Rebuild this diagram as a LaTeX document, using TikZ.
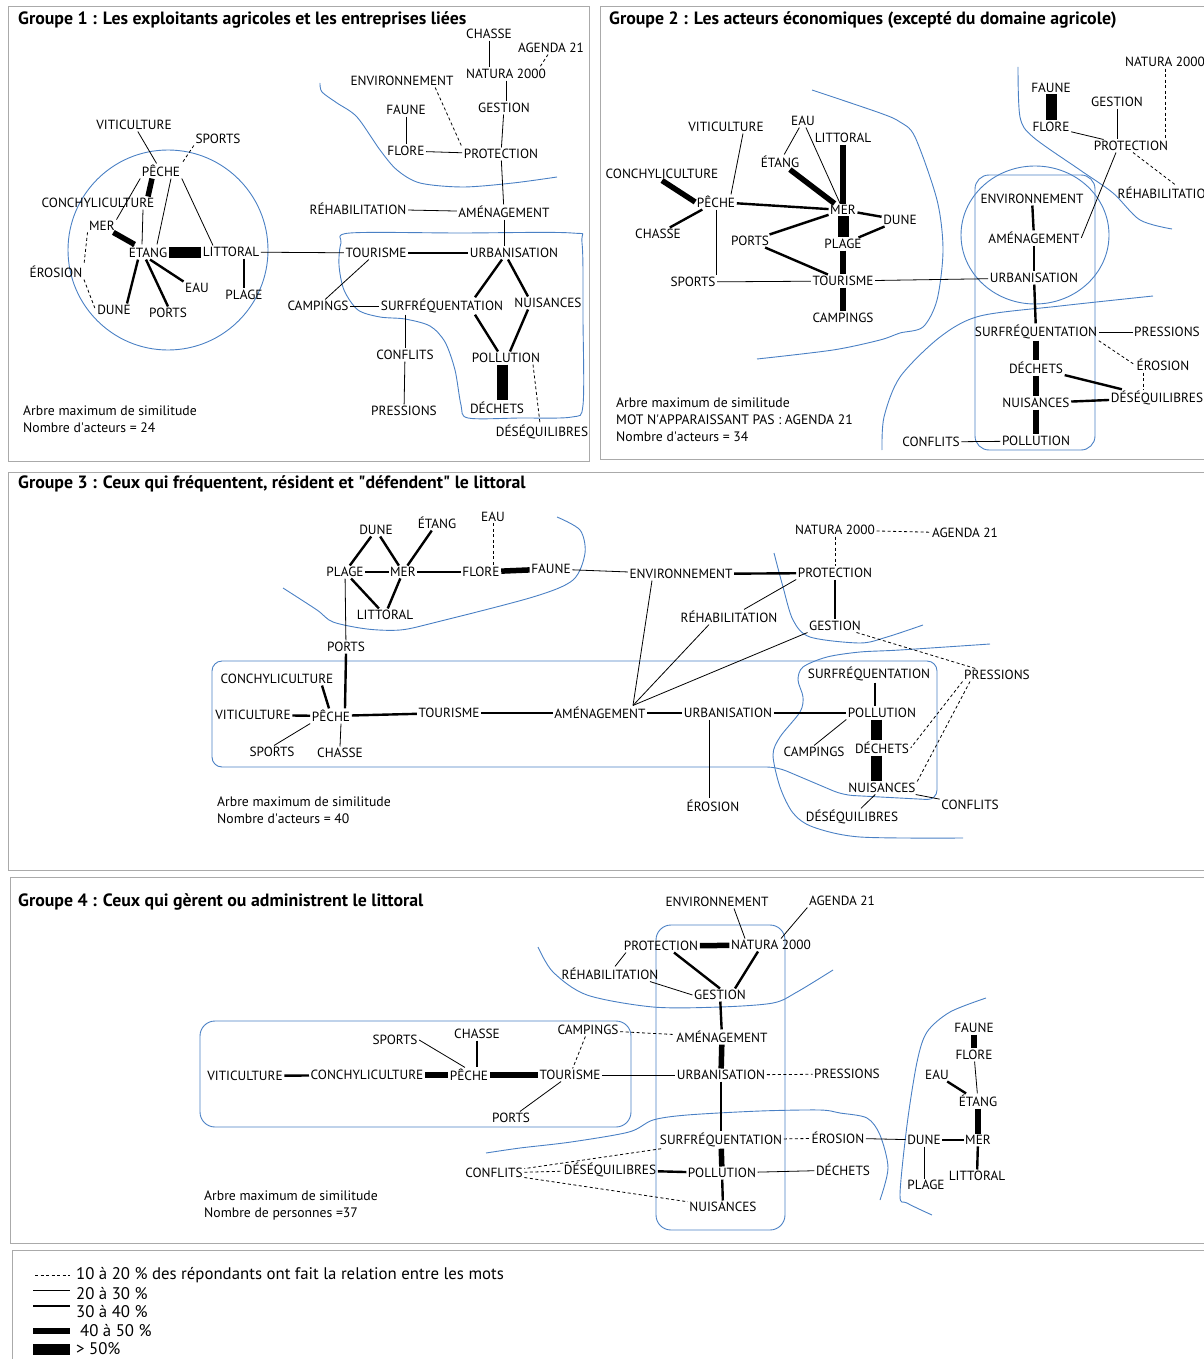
\documentclass[tikz,border=0pt]{standalone}
\usepackage{fontspec}
\setmainfont{PT Sans}

\definecolor{bleucote}{RGB}{74,128,196}
\definecolor{griscadre}{RGB}{170,170,170}

\begin{document}
\begin{tikzpicture}[x=1pt, y=-1pt,
    mot/.style={inner sep=1.5pt, font=\fontsize{13.3}{15}\selectfont},
    titre/.style={anchor=west, inner sep=0pt, font=\fontsize{17.8}{20}\selectfont\bfseries},
    note/.style={anchor=west, inner sep=0pt, align=left, font=\fontsize{13.7}{17}\selectfont},
    legende/.style={anchor=west, inner sep=0pt, font=\fontsize{16.8}{19}\selectfont},
    fin/.style={line width=0.8pt},
    moyen/.style={line width=2.4pt},
    epais/.style={line width=5.5pt},
    massif/.style={line width=11pt},
    pointille/.style={line width=0.8pt, dash pattern=on 3pt off 2.5pt},
    cote/.style={draw=bleucote, line width=0.9pt},
    cadre/.style={draw=griscadre, line width=1pt}
  ]
  \useasboundingbox (0,0) rectangle (1203,1359);

  % ---------------- Groupe 1
  \draw[cadre] (8,7) rectangle (589,461);
  \node[titre] (titre1) at (18,20) {Groupe 1 : Les exploitants agricoles et les entreprises liées};
  \draw[cote] (168,250) circle [radius=100pt];
  \draw[cote] plot[smooth] coordinates {(320,83) (322,92) (337,103) (357,117) (380,150) (397,170) (420,183) (463,187) (513,183) (557,177)};
  \draw[cote] plot[smooth cycle, tension=0.5] coordinates {(350,233) (460,233) (572,233) (582,243) (583,320) (583,405) (572,417) (520,418) (468,418) (461,405) (455,370) (445,342) (430,326) (405,319) (380,317) (358,310) (344,290) (339,265) (341,243)};

  \node[mot] (chasse1) at (489,34) {CHASSE};
  \node[mot] (agenda1) at (551,48) {AGENDA 21};
  \node[mot] (natura1) at (506,74) {NATURA 2000};
  \node[mot] (environ1) at (402,81) {ENVIRONNEMENT};
  \node[mot] (gestion1) at (504,108) {GESTION};
  \node[mot] (faune1) at (406,110) {FAUNE};
  \node[mot] (flore1) at (406,151) {FLORE};
  \node[mot] (protect1) at (501,154) {PROTECTION};
  \node[mot] (viti1) at (134,125) {VITICULTURE};
  \node[mot] (sports1) at (218,139) {SPORTS};
  \node[mot] (peche1) at (161,171) {PÊCHE};
  \node[mot] (conchy1) at (98,203) {CONCHYLICULTURE};
  \node[mot] (mer1) at (102,226) {MER};
  \node[mot] (etang1) at (148,252) {ÉTANG};
  \node[mot] (littoral1) at (231,252) {LITTORAL};
  \node[mot] (erosion1) at (56,272) {ÉROSION};
  \node[mot] (eau1) at (197,288) {EAU};
  \node[mot] (plage1) at (244,295) {PLAGE};
  \node[mot] (dune1) at (114,310) {DUNE};
  \node[mot] (ports1) at (168,313) {PORTS};
  \node[mot] (rehab1) at (358,209) {RÉHABILITATION};
  \node[mot] (amenag1) at (504,212) {AMÉNAGEMENT};
  \node[mot] (tourisme1) at (376,253) {TOURISME};
  \node[mot] (urban1) at (514,253) {URBANISATION};
  \node[mot] (campings1) at (318,306) {CAMPINGS};
  \node[mot] (surf1) at (442,306) {SURFRÉQUENTATION};
  \node[mot] (nuis1) at (548,303) {NUISANCES};
  \node[mot] (conflits1) at (405,355) {CONFLITS};
  \node[mot] (pollu1) at (506,358) {POLLUTION};
  \node[mot] (pressions1) at (404,411) {PRESSIONS};
  \node[mot] (dechets1) at (497,408) {DÉCHETS};
  \node[mot] (desequ1) at (542,432) {DÉSÉQUILIBRES};
  \node[note] (arbre1) at (23,419.5) {Arbre maximum de similitude\\Nombre d\textquotesingle acteurs = 24};

  \draw[fin] (chasse1) -- (chasse1 |- natura1.north);
  \draw[pointille] ([xshift=-3pt]agenda1.south) -- ([xshift=-8pt]natura1.north east);
  \draw[fin] (natura1) -- (natura1 |- gestion1.north);
  \draw[fin] (gestion1) -- (protect1);
  \draw[pointille] ([xshift=-20pt]environ1.south east) -- (protect1.north west);
  \draw[fin] (faune1) -- (flore1);
  \draw[fin] (flore1) -- (protect1);
  \draw[fin] (protect1) -- (amenag1);
  \draw[fin] (rehab1) -- (amenag1);
  \draw[fin] (amenag1) -- (amenag1 |- urban1.north);
  \draw[moyen] (tourisme1) -- (urban1);
  \draw[fin] (littoral1) -- (tourisme1);
  \draw[fin] (tourisme1) -- (campings1);
  \draw[fin] (campings1) -- (surf1);
  \draw[moyen] ([xshift=-12pt]urban1.south) -- ([xshift=33pt]surf1.north);
  \draw[moyen] ([xshift=-6pt]urban1.south) -- ([xshift=-20pt]nuis1.north);
  \draw[moyen] ([xshift=33pt]surf1.south) -- ([xshift=-8pt]pollu1.north);
  \draw[moyen] ([xshift=-20pt]nuis1.south) -- ([xshift=4pt]pollu1.north);
  \draw[massif] ([xshift=-4pt]pollu1.south) -- ([xshift=-4pt]pollu1.south |- dechets1.north);
  \draw[pointille] ([xshift=27pt]pollu1.south) -- ([xshift=-2pt]desequ1.north);
  \draw[fin] (conflits1 |- surf1.south) -- (conflits1.north);
  \draw[fin] (conflits1) -- (pressions1);
  \draw[fin] (viti1) -- (peche1);
  \draw[pointille] (sports1.south west) -- (peche1.north east);
  \draw[epais] ([xshift=-9pt]peche1.south) -- ([xshift=50pt]conchy1.north);
  \draw[fin] (peche1.south west) -- (mer1.north east);
  \draw[fin] ([xshift=45pt]conchy1.south) -- ([xshift=-6pt]etang1.north);
  \draw[fin] ([xshift=10pt]peche1.south) -- ([xshift=9pt]etang1.north);
  \draw[fin] (peche1.south east) -- ([xshift=-18pt]littoral1.north);
  \draw[epais] (mer1) -- (etang1);
  \draw[massif] (etang1) -- (littoral1);
  \draw[moyen] ([xshift=-10pt]etang1.south) -- ([xshift=13pt]dune1.north);
  \draw[moyen] ([xshift=-2pt]etang1.south) -- (ports1.north);
  \draw[moyen] ([xshift=2pt]etang1.south) -- (eau1.north west);
  \draw[moyen] (plage1 |- littoral1.south) -- (plage1.north);
  \draw[pointille] (mer1.south west) -- (erosion1.north east);
  \draw[pointille] (erosion1.south east) -- (dune1.west);

  % ---------------- Groupe 2
  \draw[cadre] (600,7) rectangle (1210,459);
  \node[titre] (titre2) at (609,20) {Groupe 2 : Les acteurs économiques (excepté du domaine agricole)};
  \draw[cote] plot[smooth] coordinates {(812,90) (880,113) (900,122) (915,137) (937,200) (943,250) (937,300) (923,327) (900,333) (880,340) (833,350) (757,359)};
  \draw[cote] plot[smooth] coordinates {(1018,67) (1020,117) (1033,137) (1080,170) (1113,193) (1140,220) (1172,229)};
  \draw[cote] (1035,235) ellipse [x radius=74pt, y radius=69pt];
  \draw[cote, rounded corners=14pt] (975,175) rectangle (1095,450);
  \draw[cote] plot[smooth] coordinates {(1153,296) (1060,306) (980,316) (940,337) (900,377) (884,417) (882,450)};

  \node[mot] (viti2) at (726,127) {VITICULTURE};
  \node[mot] (eau2) at (803,121) {EAU};
  \node[mot] (littoral2) at (843,138) {LITTORAL};
  \node[mot] (etang2) at (780,162) {ÉTANG};
  \node[mot] (conchy2) at (662,174) {CONCHYLICULTURE};
  \node[mot] (peche2) at (716,202) {PÊCHE};
  \node[mot] (mer2) at (843,210) {MER};
  \node[mot] (dune2) at (900,220) {DUNE};
  \node[mot] (chasse2) at (658,234) {CHASSE};
  \node[mot] (ports2) at (750,241) {PORTS};
  \node[mot] (plage2) at (843,244) {PLAGE};
  \node[mot] (sports2) at (693,282) {SPORTS};
  \node[mot] (tourisme2) at (843,281) {TOURISME};
  \node[mot] (campings2) at (843,318) {CAMPINGS};
  \node[mot] (natura2) at (1165,62) {NATURA 2000};
  \node[mot] (faune2) at (1051,88) {FAUNE};
  \node[mot] (gestion2) at (1117,102) {GESTION};
  \node[mot] (flore2) at (1051,127) {FLORE};
  \node[mot] (protect2) at (1131,146) {PROTECTION};
  \node[mot, anchor=west] (rehab2) at (1116,193) {RÉHABILITATION};
  \node[mot] (environ2) at (1032,199) {ENVIRONNEMENT};
  \node[mot] (amenag2) at (1034,238) {AMÉNAGEMENT};
  \node[mot] (urban2) at (1034,278) {URBANISATION};
  \node[mot] (surf2) at (1036,332) {SURFRÉQUENTATION};
  \node[mot] (pressions2) at (1167,332) {PRESSIONS};
  \node[mot] (erosion2) at (1163,365) {ÉROSION};
  \node[mot] (dechets2) at (1036,368) {DÉCHETS};
  \node[mot] (desequ2) at (1157,398) {DÉSÉQUILIBRES};
  \node[mot] (nuis2) at (1036,403) {NUISANCES};
  \node[mot] (conflits2) at (931,442) {CONFLITS};
  \node[mot] (pollu2) at (1036,441) {POLLUTION};
  \node[note] (arbre2) at (616,420) {Arbre maximum de similitude\\MOT N\textquotesingle APPARAISSANT PAS : AGENDA 21\\Nombre d\textquotesingle acteurs = 34};

  \draw[fin] ([xshift=17pt]viti2.south) -- ([xshift=15pt]peche2.north);
  \draw[fin] (eau2) -- (etang2);
  \draw[fin] (eau2) -- (mer2);
  \draw[epais] (etang2) -- (mer2);
  \draw[epais] (littoral2) -- (mer2);
  \draw[epais] (conchy2.south) -- (peche2.west);
  \draw[moyen] (peche2) -- (mer2);
  \draw[moyen] (peche2) -- (chasse2);
  \draw[fin] (peche2.south) -- (peche2.south |- sports2.north);
  \draw[moyen] (mer2) -- (dune2);
  \draw[massif] (mer2) -- (plage2);
  \draw[moyen] (mer2) -- (ports2);
  \draw[moyen] (dune2) -- (plage2);
  \draw[epais] (plage2) -- (tourisme2);
  \draw[moyen] (ports2) -- (tourisme2);
  \draw[fin] (sports2) -- (tourisme2);
  \draw[epais] (tourisme2) -- (campings2);
  \draw[fin] (tourisme2) -- (urban2);
  \draw[massif] (faune2) -- (flore2);
  \draw[fin] (flore2) -- (protect2);
  \draw[fin] (gestion2) -- (gestion2 |- protect2.north);
  \draw[pointille] (natura2.south) -- (natura2.south |- protect2.north);
  \draw[pointille] ([xshift=2pt]protect2.south) -- ([xshift=10pt]rehab2.north);
  \draw[fin] ([xshift=-15pt]protect2.south) -- (amenag2.east);
  \draw[moyen] (environ2) -- (amenag2);
  \draw[moyen] (amenag2) -- (urban2);
  \draw[moyen] (urban2) -- (surf2);
  \draw[epais] (surf2) -- (dechets2);
  \draw[fin] (surf2) -- (pressions2);
  \draw[pointille] (surf2.south east) -- (erosion2.west);
  \draw[pointille] ([xshift=-20pt]erosion2.south) -- ([xshift=-14pt]desequ2.north);
  \draw[epais] (dechets2) -- (nuis2);
  \draw[moyen] (dechets2) -- (desequ2);
  \draw[moyen] (nuis2) -- (desequ2);
  \draw[epais] (nuis2) -- (pollu2);
  \draw[fin] (pollu2) -- (conflits2);

  % ---------------- Groupe 3
  \draw[cadre] (8,472) rectangle (1210,870);
  \node[titre] (titre3) at (18,484) {Groupe 3 : Ceux qui fréquentent, résident et \textquotedbl défendent\textquotedbl\ le littoral};
  \draw[cote] plot[smooth] coordinates {(283,588) (317,610) (333,622) (367,629) (400,630) (433,623) (533,597) (573,580) (585,553) (580,530) (557,517)};
  \draw[cote, rounded corners=10pt] (212,720) -- (212,661) -- (937,661) -- (937,800) -- (843,795) -- (777,767) -- (212,767) -- cycle;
  \draw[cote] plot[smooth] coordinates {(990,644) (900,650) (860,652) (827,657) (803,667) (798,680) (803,697) (800,712) (780,737) (773,755) (780,787) (793,813) (813,827) (860,837) (963,838)};
  \draw[cote] plot[smooth] coordinates {(774,553) (783,587) (793,620) (810,637) (860,643) (887,637) (923,625)};

  \node[mot] (dune3) at (376,530) {DUNE};
  \node[mot] (etang3) at (437,523) {ÉTANG};
  \node[mot] (eau3) at (493,517) {EAU};
  \node[mot] (plage3) at (345,572) {PLAGE};
  \node[mot] (mer3) at (403,572) {MER};
  \node[mot] (flore3) at (481,572) {FLORE};
  \node[mot] (faune3) at (551,569) {FAUNE};
  \node[mot] (littoral3) at (385,615) {LITTORAL};
  \node[mot] (ports3) at (346,647) {PORTS};
  \node[mot] (conchy3) at (277,679) {CONCHYLICULTURE};
  \node[mot] (viti3) at (253,715) {VITICULTURE};
  \node[mot] (peche3) at (331,716) {PÊCHE};
  \node[mot] (sports3) at (272,752) {SPORTS};
  \node[mot] (chasse3) at (340,753) {CHASSE};
  \node[mot] (tourisme3) at (449,713) {TOURISME};
  \node[mot] (amenag3) at (600,713) {AMÉNAGEMENT};
  \node[mot] (urban3) at (728,713) {URBANISATION};
  \node[mot] (environ3) at (681,574) {ENVIRONNEMENT};
  \node[mot] (rehab3) at (729,617) {RÉHABILITATION};
  \node[mot] (protect3) at (835,573) {PROTECTION};
  \node[mot] (natura3) at (835,530) {NATURA 2000};
  \node[mot] (agenda3) at (965,533) {AGENDA 21};
  \node[mot] (gestion3) at (835,626) {GESTION};
  \node[mot] (pressions3) at (997,675) {PRESSIONS};
  \node[mot] (surf3) at (869,674) {SURFRÉQUENTATION};
  \node[mot] (pollu3) at (882,713) {POLLUTION};
  \node[mot] (campings3) at (814,752) {CAMPINGS};
  \node[mot] (dechets3) at (882,748) {DÉCHETS};
  \node[mot] (nuis3) at (882,788) {NUISANCES};
  \node[mot] (conflits3) at (970,805) {CONFLITS};
  \node[mot] (desequ3) at (852,817) {DÉSÉQUILIBRES};
  \node[mot] (erosion3) at (713,806) {ÉROSION};
  \node[note] (arbre3) at (217,810.5) {Arbre maximum de similitude\\Nombre d\textquotesingle acteurs = 40};

  \draw[moyen] (dune3) -- (plage3);
  \draw[moyen] (dune3) -- (mer3);
  \draw[moyen] (plage3) -- (mer3);
  \draw[moyen] (plage3) -- (littoral3);
  \draw[moyen] (mer3) -- (littoral3);
  \draw[moyen] (etang3) -- (mer3);
  \draw[moyen] (mer3) -- (flore3);
  \draw[pointille] (eau3) -- (eau3 |- flore3.north);
  \draw[epais] (flore3) -- (faune3);
  \draw[fin] (faune3) -- (environ3);
  \draw[moyen] (environ3) -- (protect3);
  \draw[fin] ([xshift=15pt]rehab3.north) -- (protect3.south west);
  \draw[pointille] (natura3) -- (protect3);
  \draw[pointille] (natura3) -- (agenda3);
  \draw[moyen] (protect3) -- (gestion3);
  \draw[pointille] (gestion3) -- (pressions3);
  \draw[fin] (gestion3.south west) -- ([xshift=33pt]amenag3.north);
  \draw[fin] ([xshift=-29pt]environ3.south) -- ([xshift=33pt]amenag3.north);
  \draw[fin] ([xshift=-20pt]rehab3.south) -- ([xshift=33pt]amenag3.north);
  \draw[fin] (plage3) -- (ports3);
  \draw[moyen] (ports3.south) -- ([xshift=14pt]peche3.north);
  \draw[moyen] ([xshift=45pt]conchy3.south) -- ([xshift=-2pt]peche3.north);
  \draw[moyen] (viti3) -- (peche3);
  \draw[fin] (peche3.south west) -- ([xshift=2pt]sports3.north);
  \draw[fin] ([xshift=10pt]peche3.south) -- (chasse3.north);
  \draw[moyen] (peche3) -- (tourisme3);
  \draw[moyen] (tourisme3) -- (amenag3);
  \draw[moyen] (amenag3) -- (urban3);
  \draw[moyen] (urban3) -- (pollu3);
  \draw[fin] ([xshift=-19pt]urban3.south) -- ([xshift=-4pt]erosion3.north);
  \draw[moyen] ([xshift=6pt]surf3.south) -- ([xshift=6pt]surf3.south |- pollu3.north);
  \draw[massif] ([xshift=-6pt]pollu3.south) -- ([xshift=-6pt]pollu3.south |- dechets3.north);
  \draw[massif] ([xshift=-6pt]dechets3.south) -- ([xshift=-6pt]dechets3.south |- nuis3.north);
  \draw[fin] (pollu3.south west) -- (campings3.north);
  \draw[fin] (nuis3) -- (desequ3);
  \draw[fin] (nuis3) -- (conflits3);
  \draw[pointille] (pressions3.south west) -- (dechets3.east);
  \draw[pointille] ([xshift=-27pt]pressions3.south) -- (nuis3.north east);

  % ---------------- Groupe 4
  \draw[cadre] (10,877) rectangle (1210,1243);
  \node[titre] (titre4) at (18,902) {Groupe 4 : Ceux qui gèrent ou administrent le littoral};
  \draw[cote] plot[smooth] coordinates {(538,947) (553,972) (587,995) (653,1007) (720,1007) (773,1003) (797,992) (833,970)};
  \draw[cote, rounded corners=15pt] (656,925) rectangle (785,1230);
  \draw[cote, rounded corners=15pt] (200,1021) rectangle (631,1127);
  \draw[cote] plot[smooth] coordinates {(486,1153) (520,1148) (571,1142) (629,1132) (653,1120) (687,1115) (760,1111) (820,1110) (840,1113) (867,1118) (880,1135) (888,1168) (880,1200)};
  \draw[cote] plot[smooth] coordinates {(986,998) (950,1012) (927,1032) (917,1062) (907,1125) (900,1195) (907,1203) (932,1215)};

  \node[mot] (environ4) at (717,902) {ENVIRONNEMENT};
  \node[mot] (agenda4) at (842,901) {AGENDA 21};
  \node[mot] (protect4) at (661,946) {PROTECTION};
  \node[mot] (natura4) at (771,945) {NATURA 2000};
  \node[mot] (rehab4) at (610,974) {RÉHABILITATION};
  \node[mot] (gestion4) at (720,995) {GESTION};
  \node[mot] (amenag4) at (722,1037) {AMÉNAGEMENT};
  \node[mot] (campings4) at (588,1030) {CAMPINGS};
  \node[mot] (sports4) at (395,1040) {SPORTS};
  \node[mot] (chasse4) at (477,1034) {CHASSE};
  \node[mot] (viti4) at (245,1076) {VITICULTURE};
  \node[mot] (conchy4) at (367,1075) {CONCHYLICULTURE};
  \node[mot] (peche4) at (469,1075) {PÊCHE};
  \node[mot] (tourisme4) at (570,1075) {TOURISME};
  \node[mot] (urban4) at (721,1075) {URBANISATION};
  \node[mot] (pressions4) at (847,1074) {PRESSIONS};
  \node[mot] (ports4) at (511,1118) {PORTS};
  \node[mot] (surf4) at (721,1140) {SURFRÉQUENTATION};
  \node[mot] (erosion4) at (838,1138) {ÉROSION};
  \node[mot] (desequ4) at (610,1170) {DÉSÉQUILIBRES};
  \node[mot] (conflits4) at (494,1173) {CONFLITS};
  \node[mot] (pollu4) at (722,1173) {POLLUTION};
  \node[mot] (dechets4) at (843,1170) {DÉCHETS};
  \node[mot] (nuis4) at (723,1207) {NUISANCES};
  \node[mot] (faune4) at (974,1028) {FAUNE};
  \node[mot] (flore4) at (974,1055) {FLORE};
  \node[mot] (eau4) at (937,1075) {EAU};
  \node[mot] (etang4) at (978,1101) {ÉTANG};
  \node[mot] (dune4) at (924,1140) {DUNE};
  \node[mot] (mer4) at (978,1140) {MER};
  \node[mot] (plage4) at (926,1185) {PLAGE};
  \node[mot] (littoral4) at (977,1176) {LITTORAL};
  \node[note] (arbre4) at (204,1205.5) {Arbre maximum de similitude\\Nombre de personnes =37};

  \draw[fin] ([xshift=17pt]environ4.south) -- ([xshift=-26pt]natura4.north);
  \draw[fin] (agenda4.south west) -- ([xshift=10pt]natura4.north);
  \draw[epais] (protect4) -- (natura4);
  \draw[moyen] ([xshift=13pt]protect4.south) -- (gestion4.north);
  \draw[moyen] ([xshift=-13pt]natura4.south) -- ([xshift=15pt]gestion4.north);
  \draw[fin] ([xshift=-35pt]protect4.south) -- ([xshift=5pt]rehab4.north);
  \draw[fin] ([xshift=40pt]rehab4.south) -- (gestion4.west);
  \draw[moyen] (gestion4) -- (amenag4);
  \draw[epais] (amenag4) -- (urban4);
  \draw[pointille] (campings4) -- (amenag4);
  \draw[pointille] (campings4) -- (tourisme4);
  \draw[fin] (tourisme4) -- (urban4);
  \draw[pointille] (urban4) -- (pressions4);
  \draw[moyen] (urban4) -- (surf4);
  \draw[pointille] (surf4) -- (erosion4);
  \draw[epais] (surf4) -- (pollu4);
  \draw[pointille] (surf4) -- (conflits4);
  \draw[pointille] (conflits4) -- (desequ4);
  \draw[pointille] (conflits4) -- (nuis4);
  \draw[moyen] (desequ4) -- (pollu4);
  \draw[moyen] (pollu4) -- (nuis4);
  \draw[fin] (pollu4) -- (dechets4);
  \draw[fin] (erosion4) -- (dune4);
  \draw[moyen] (viti4) -- (conchy4);
  \draw[epais] (conchy4) -- (peche4);
  \draw[epais] (peche4) -- (tourisme4);
  \draw[fin] (sports4.east) -- ([xshift=-4pt]peche4.north);
  \draw[moyen] (chasse4.south) -- (chasse4.south |- peche4.north);
  \draw[fin] (tourisme4) -- (ports4);
  \draw[epais] (faune4) -- (flore4);
  \draw[fin] (flore4) -- (etang4);
  \draw[moyen] (eau4) -- (etang4);
  \draw[epais] (etang4) -- (mer4);
  \draw[moyen] (dune4) -- (mer4);
  \draw[fin] (dune4.south) -- (dune4.south |- plage4.north);
  \draw[moyen] (mer4) -- (littoral4);

  % ---------------- Légende
  \draw[cadre] (12,1250) rectangle (1210,1370);
  \node[legende] (leg1) at (76,1275) {10 à 20 \% des répondants ont fait la relation entre les mots};
  \node[legende] (leg2) at (76,1294) {20 à 30 \%};
  \node[legende] (leg3) at (76,1312) {30 à 40 \%};
  \node[legende] (leg4) at (80,1331) {40 à 50 \%};
  \node[legende] (leg5) at (76,1349) {> 50\%};
  \draw[pointille] ([xshift=-41pt]leg1.west) -- ([xshift=-6pt]leg1.west);
  \draw[fin] ([xshift=-43pt,yshift=4pt]leg2.west) -- ([xshift=-6pt,yshift=4pt]leg2.west);
  \draw[moyen] ([xshift=-43pt,yshift=6pt]leg3.west) -- ([xshift=-6pt,yshift=6pt]leg3.west);
  \draw[epais] ([xshift=-47pt]leg4.west) -- ([xshift=-10pt]leg4.west);
  \draw[massif] ([xshift=-43pt]leg5.west) -- ([xshift=-6pt]leg5.west);
\end{tikzpicture}
\end{document}
